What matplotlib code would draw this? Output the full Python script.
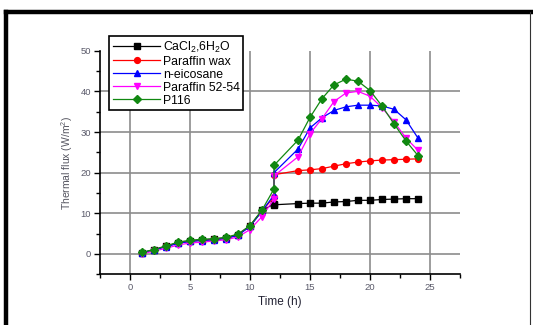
import matplotlib
matplotlib.use("Agg")
import matplotlib.pyplot as plt
from matplotlib.lines import Line2D
from matplotlib.ticker import MultipleLocator

plt.rcParams["font.family"] = ["Liberation Sans", "DejaVu Sans"]
plt.rcParams["mathtext.default"] = "regular"

# hours (two readings at 12 h, none at 13 h)
hours = [1, 2, 3, 4, 5, 6, 7, 8, 9, 10, 11, 12, 12, 14, 15, 16, 17, 18, 19, 20, 21, 22, 23, 24]

cacl2 = [0.3, 1.0, 1.9, 2.7, 3.2, 3.4, 3.6, 3.9, 4.7, 6.9, 10.7, 12.3, 12.1,
         12.4, 12.5, 12.5, 12.8, 12.9, 13.2, 13.2, 13.4, 13.5, 13.6, 13.6]
paraffin_wax = [0.3, 1.0, 1.9, 2.7, 3.2, 3.4, 3.6, 3.9, 4.7, 6.9, 10.6, 14.0, 19.5,
                20.5, 20.7, 21.0, 21.6, 22.2, 22.6, 22.9, 23.1, 23.2, 23.3, 23.4]
eicosane = [0.3, 1.0, 1.8, 2.6, 3.1, 3.3, 3.5, 3.8, 4.6, 6.8, 10.5, 14.5, 20.0,
            25.8, 31.0, 33.5, 35.3, 36.2, 36.6, 36.6, 36.4, 35.6, 33.0, 28.5]
paraffin_5254 = [0.1, 0.7, 1.4, 2.2, 2.7, 2.9, 3.2, 3.5, 4.2, 6.0, 9.2, 13.5, 19.2,
                 23.9, 29.6, 33.3, 37.5, 39.6, 40.0, 38.8, 36.0, 32.5, 28.5, 25.5]
p116 = [0.4, 1.1, 2.0, 2.9, 3.4, 3.6, 3.8, 4.1, 4.9, 7.0, 10.8, 16.0, 21.8,
        28.0, 33.6, 38.2, 41.6, 43.0, 42.5, 40.2, 36.4, 32.0, 27.8, 24.2]

labels = ["CaCl$_2$,6H$_2$O", "Paraffin wax", "n-eicosane", "Paraffin 52-54", "P116"]
series = [cacl2, paraffin_wax, eicosane, paraffin_5254, p116]
colors = ["black", "#ff0000", "#0000ff", "#ff00ff", "#118811"]
markers = ["s", "o", "^", "v", "D"]

fig = plt.figure(figsize=(5.33, 3.25), dpi=100)
ax = fig.add_axes([100 / 533, 1 - 274.3 / 325, 360 / 533, 223.6 / 325])

for y in [0, 10, 20, 30, 40]:
    ax.axhline(y, color="#8c8c8c", lw=1.2, zorder=0)
for x in [0, 5, 10, 15, 20, 25]:
    ax.axvline(x, color="#8c8c8c", lw=1.2, zorder=0)

for vals, lab, c, m in zip(series, labels, colors, markers):
    ms = 3.6 if m == "D" else 4.2
    ax.plot(hours, vals, color=c, marker=m, ms=ms, lw=0.9, label=lab)

ax.set_xlim(-2.5, 27.5)
ax.set_ylim(-5, 50)
ax.xaxis.set_major_locator(MultipleLocator(5))
ax.xaxis.set_minor_locator(MultipleLocator(2.5))
ax.yaxis.set_major_locator(MultipleLocator(10))
ax.yaxis.set_minor_locator(MultipleLocator(5))
ax.tick_params(which="major", length=4, width=1, pad=2.5, labelsize=6.8, labelcolor="#5a5a6a")
ax.tick_params(which="minor", length=3, width=1)
for s in ["top", "right"]:
    ax.spines[s].set_visible(False)
for s in ["left", "bottom"]:
    ax.spines[s].set_linewidth(1.2)

ax.set_xlabel("Time (h)", fontsize=8.5, color="#222233", labelpad=3)
ax.set_ylabel("Thermal flux (W/m$^2$)", fontsize=7.5, color="#555560", labelpad=4)

leg = ax.legend(loc="upper left", bbox_to_anchor=(109 / 533, 1 - 36 / 325),
                bbox_transform=fig.transFigure, borderaxespad=0, fontsize=8.8,
                frameon=True, fancybox=False, framealpha=1, edgecolor="black",
                handlelength=3.9, handletextpad=0.2, labelspacing=0.08, borderpad=0.3)
leg.get_frame().set_linewidth(1.2)

# outer frame of the figure image
fig.add_artist(Line2D([6 / 533, 6 / 533], [0, 1 - 12 / 325], color="black", lw=3.2,
                      transform=fig.transFigure, solid_capstyle="projecting"))
fig.add_artist(Line2D([6 / 533, 1], [1 - 12 / 325, 1 - 12 / 325], color="black", lw=3.2,
                      transform=fig.transFigure, solid_capstyle="projecting"))
fig.add_artist(Line2D([530 / 533, 530 / 533], [0, 1 - 12 / 325], color="#333333", lw=0.8,
                      transform=fig.transFigure))

fig.savefig("out.png", dpi=100)
